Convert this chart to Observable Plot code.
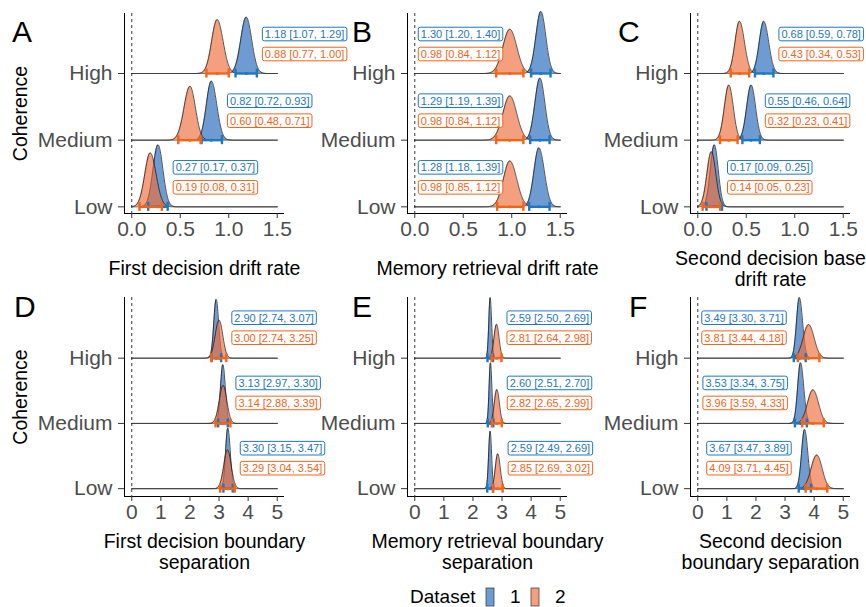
<!DOCTYPE html>
<html><head><meta charset="utf-8">
<script src="https://cdn.jsdelivr.net/npm/d3@7"></script>
<script src="https://cdn.jsdelivr.net/npm/@observablehq/plot@0.6"></script>
<style>
body{margin:0;background:#fff;font-family:"Liberation Sans",Arial,sans-serif;}
#root{position:relative;width:866px;height:607px;overflow:hidden;background:#fff;}
.cell{position:absolute;}
#overlay{position:absolute;left:0;top:0;pointer-events:none;}
</style></head><body><div id="root"></div>
<script>
// ---------------- data ----------------
const coherence = ["Low", "Medium", "High"];
const datasets = ["1", "2"];
const panelLetters = ["A", "B", "C", "D", "E", "F"];
const xTitles = [
  "First decision drift rate",
  "Memory retrieval drift rate",
  "Second decision base\ndrift rate",
  "First decision boundary\nseparation",
  "Memory retrieval boundary\nseparation",
  "Second decision\nboundary separation"
];
const xTicksDrift = [0, 0.5, 1, 1.5];
const xTicksBoundary = [0, 1, 2, 3, 4, 5];

// [mean, lower, upper] for Low, Medium, High
const A_ds1 = [[0.27, 0.17, 0.37], [0.82, 0.72, 0.93], [1.18, 1.07, 1.29]];
const A_ds2 = [[0.19, 0.08, 0.31], [0.60, 0.48, 0.71], [0.88, 0.77, 1.00]];
const B_ds1 = [[1.28, 1.18, 1.39], [1.29, 1.19, 1.39], [1.30, 1.20, 1.40]];
const B_ds2 = [[0.98, 0.85, 1.12], [0.98, 0.84, 1.12], [0.98, 0.84, 1.12]];
const C_ds1 = [[0.17, 0.09, 0.25], [0.55, 0.46, 0.64], [0.68, 0.59, 0.78]];
const C_ds2 = [[0.14, 0.05, 0.23], [0.32, 0.23, 0.41], [0.43, 0.34, 0.53]];
const D_ds1 = [[3.30, 3.15, 3.47], [3.13, 2.97, 3.30], [2.90, 2.74, 3.07]];
const D_ds2 = [[3.29, 3.04, 3.54], [3.14, 2.88, 3.39], [3.00, 2.74, 3.25]];
const E_ds1 = [[2.59, 2.49, 2.69], [2.60, 2.51, 2.70], [2.59, 2.50, 2.69]];
const E_ds2 = [[2.85, 2.69, 3.02], [2.82, 2.65, 2.99], [2.81, 2.64, 2.98]];
const F_ds1 = [[3.67, 3.47, 3.89], [3.53, 3.34, 3.75], [3.49, 3.30, 3.71]];
const F_ds2 = [[4.09, 3.71, 4.45], [3.96, 3.59, 4.33], [3.81, 3.44, 4.18]];

// ---------------- styling / layout ----------------
const FONT = '"Liberation Sans", Arial, Helvetica, sans-serif';
const fillCol = ["#2065b9", "#ee6d39"];
const lineCol = ["#1f77c0", "#f0651a"];
const panelData = [[A_ds1, A_ds2], [B_ds1, B_ds2], [C_ds1, C_ds2], [D_ds1, D_ds2], [E_ds1, E_ds2], [F_ds1, F_ds2]];
const panelTicks = [xTicksDrift, xTicksDrift, xTicksDrift, xTicksBoundary, xTicksBoundary, xTicksBoundary];
const panelPlace = ["right", "zero", "right", "right", "right", "left"];
const colGeo = [
  {left: 0, width: 290, ml: 124, mr: 6},
  {left: 290, width: 290, ml: 117, mr: 13},
  {left: 580, width: 286, ml: 110, mr: 16}
];
const rowGeo = [
  {top: 0, height: 285, mt: 13, mb: 72, ydom: [0.9, 3.9], dy1: -39, dy2: -19},
  {top: 285, height: 295, mt: 12, mb: 84, ydom: [0.88, 3.93], dy1: -40, dy2: -20}
];

const root = document.getElementById("root");

function splitPdf(x, m, lo, hi) {
  const s1 = (m - lo) / 1.96, s2 = (hi - m) / 1.96;
  const s = x < m ? s1 : s2;
  return Math.sqrt(2 / Math.PI) / (s1 + s2) * Math.exp(-((x - m) ** 2) / (2 * s * s));
}
function peak(m, lo, hi) {
  return Math.sqrt(2 / Math.PI) / ((m - lo) / 1.96 + (hi - m) / 1.96);
}
const fmt = v => v.toFixed(2);
const labelRe = /^\d\.\d\d \[/;

panelData.forEach((pd, p) => {
  const row = rowGeo[Math.floor(p / 3)], col = colGeo[p % 3];
  const ticks = panelTicks[p];
  const xmax = ticks[ticks.length - 1];
  const xdom = [-0.05 * xmax, 1.05 * xmax];
  const N = 600;
  const xs = d3.range(N + 1).map(i => xmax * i / N);
  let maxPk = 0;
  pd.forEach(ds => ds.forEach(([m, lo, hi]) => { maxPk = Math.max(maxPk, peak(m, lo, hi)); }));
  const k = 0.93 / maxPk;

  const marks = [];
  marks.push(Plot.ruleX([0], {stroke: "#000", strokeWidth: 0.8, strokeDasharray: "3,3"}));
  for (const c of [2, 1, 0]) {
    pd.forEach((ds, j) => {
      const [m, lo, hi] = ds[c];
      const pts = xs.map(x => ({x, base: c + 1, top: c + 1 + k * splitPdf(x, m, lo, hi)}));
      marks.push(Plot.areaY(pts, {x: "x", y1: "base", y2: "top", fill: fillCol[j], fillOpacity: 0.65}));
      marks.push(Plot.line(pts, {x: "x", y: "top", stroke: "#111", strokeWidth: 0.75}));
    });
  }
  pd.forEach((ds, j) => {
    const rows = ds.map(([m, lo, hi], c) => ({y: c + 1, m, lo, hi}));
    marks.push(Plot.ruleY(rows, {y: "y", x1: "lo", x2: "hi", stroke: lineCol[j], strokeWidth: 2.4}));
    marks.push(Plot.ruleX(rows, {x: "lo", y1: "y", y2: "y", insetTop: -4.5, insetBottom: -4.5, stroke: lineCol[j], strokeWidth: 2.4}));
    marks.push(Plot.ruleX(rows, {x: "hi", y1: "y", y2: "y", insetTop: -4.5, insetBottom: -4.5, stroke: lineCol[j], strokeWidth: 2.4}));
    marks.push(Plot.dot(rows, {x: "m", y: "y", r: 1.5, fill: lineCol[j], stroke: null}));
  });
  marks.push(Plot.ruleY([row.ydom[0]], {stroke: "#000", strokeWidth: 1}));
  marks.push(Plot.ruleX([xdom[0]], {stroke: "#000", strokeWidth: 1}));
  marks.push(Plot.axisX({ticks, tickFormat: xmax > 2 ? d => String(d) : d => d.toFixed(1), tickSize: 5, tickPadding: 3, fontSize: 21, stroke: "#333", fill: "#4d4d4d", label: null}));
  marks.push(Plot.axisY({ticks: [1, 2, 3], tickFormat: d => coherence[d - 1], tickSize: 6, tickPadding: 6, fontSize: 21, stroke: "#333", fill: "#4d4d4d", label: null}));
  marks.push(Plot.text([xTitles[p]], {frameAnchor: "bottom", lineAnchor: "middle", text: d => d, dy: 55, fontSize: 19.5, lineHeight: 1.1, fill: "#000"}));
  if (p % 3 === 0) {
    marks.push(Plot.text(["Coherence"], {frameAnchor: "left", lineAnchor: "middle", text: d => d, dx: -104, rotate: -90, textAnchor: "middle", fontSize: 19.5, fill: "#000"}));
  }
  const place = panelPlace[p];
  const labRows = pd[0].map((a, c) => {
    const b = pd[1][c];
    const lx = place === "right" ? Math.max(a[2], b[2]) : place === "zero" ? 0 : Math.min(a[1], b[1]);
    return {y: c + 1, lx, t1: `${fmt(a[0])} [${fmt(a[1])}, ${fmt(a[2])}]`, t2: `${fmt(b[0])} [${fmt(b[1])}, ${fmt(b[2])}]`};
  });
  const anchor = place === "left" ? "end" : "start";
  const ldx = place === "right" ? 8 : place === "zero" ? 6 : -10;
  marks.push(Plot.text(labRows, {x: "lx", y: "y", text: "t1", fill: lineCol[0], fontSize: 11, textAnchor: anchor, dx: ldx, dy: row.dy1}));
  marks.push(Plot.text(labRows, {x: "lx", y: "y", text: "t2", fill: lineCol[1], fontSize: 11, textAnchor: anchor, dx: ldx, dy: row.dy2}));

  const svg = Plot.plot({
    width: col.width, height: row.height,
    marginLeft: col.ml, marginRight: col.mr, marginTop: row.mt, marginBottom: row.mb,
    x: {domain: xdom, label: null},
    y: {domain: row.ydom, label: null},
    style: {overflow: "visible", background: "transparent", fontFamily: FONT},
    marks
  });
  const div = document.createElement("div");
  div.className = "cell";
  div.style.left = col.left + "px";
  div.style.top = row.top + "px";
  div.appendChild(svg);
  root.appendChild(div);

  // rounded boxes behind the value labels
  Array.from(svg.querySelectorAll("text")).filter(t => labelRe.test(t.textContent)).forEach(t => {
    const bb = t.getBBox();
    const color = getComputedStyle(t).fill;
    const r = document.createElementNS("http://www.w3.org/2000/svg", "rect");
    r.setAttribute("x", bb.x - 2.5);
    r.setAttribute("y", bb.y - 0.8);
    r.setAttribute("width", bb.width + 5);
    r.setAttribute("height", bb.height + 1.6);
    r.setAttribute("rx", 2);
    r.setAttribute("fill", "#fff");
    r.setAttribute("stroke", color);
    r.setAttribute("stroke-width", 1);
    if (t.getAttribute("transform")) r.setAttribute("transform", t.getAttribute("transform"));
    t.parentNode.insertBefore(r, t);
  });
});

// overlay: panel letters and legend
const NS = "http://www.w3.org/2000/svg";
const ov = document.createElementNS(NS, "svg");
ov.setAttribute("id", "overlay");
ov.setAttribute("width", 866);
ov.setAttribute("height", 607);
ov.style.fontFamily = FONT;
root.appendChild(ov);
const letterPos = [[12, 42], [352, 42], [618, 42], [14, 317], [352, 317], [629, 317]];
function addText(x, y, s, size) {
  const t = document.createElementNS(NS, "text");
  t.setAttribute("x", x); t.setAttribute("y", y);
  t.setAttribute("font-size", size);
  t.textContent = s;
  ov.appendChild(t);
}
panelLetters.forEach((L, i) => addText(letterPos[i][0], letterPos[i][1], L, 30));
addText(410, 603, "Dataset", 19);
const swX = [486, 531];
datasets.forEach((d, j) => {
  const r = document.createElementNS(NS, "rect");
  r.setAttribute("x", swX[j]); r.setAttribute("y", 588);
  r.setAttribute("width", 8); r.setAttribute("height", 18);
  r.setAttribute("fill", fillCol[j]); r.setAttribute("fill-opacity", 0.65);
  r.setAttribute("stroke", "#333"); r.setAttribute("stroke-width", 0.7);
  ov.appendChild(r);
  addText(swX[j] + 24, 603, d, 19);
});
</script></body></html>
